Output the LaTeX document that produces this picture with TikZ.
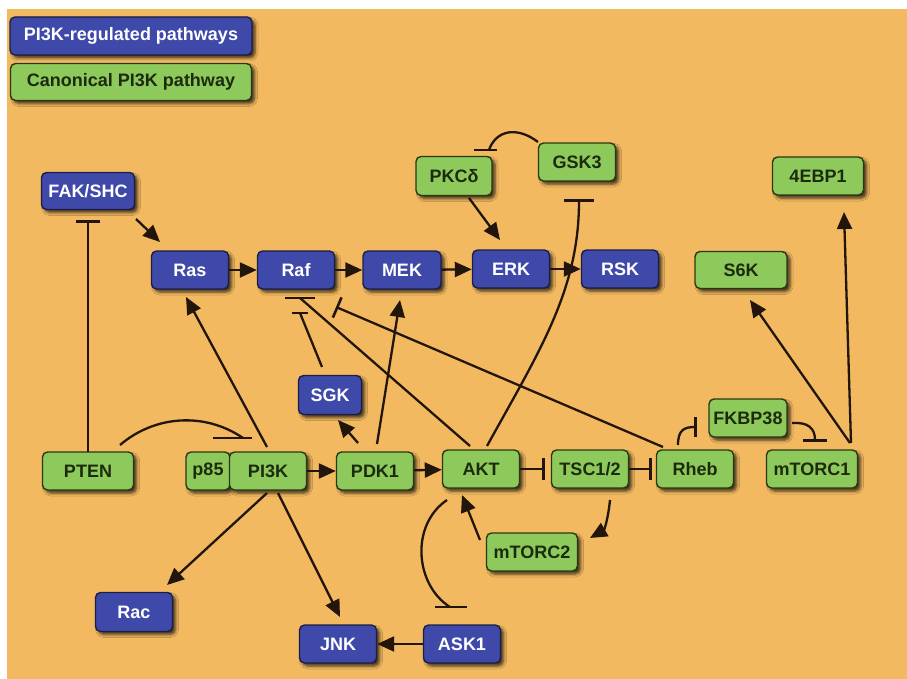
\documentclass[tikz,border=0pt]{standalone}
\usepackage{fontspec}
\setmainfont{Liberation Sans}
\usetikzlibrary{arrows.meta,calc,shadows.blur}

\definecolor{bgorange}{HTML}{F2B960}
\definecolor{pathblue}{HTML}{3E49AA}
\definecolor{pathgreen}{HTML}{8DC95B}
\definecolor{blueedge}{HTML}{1C1E45}
\definecolor{greenedge}{HTML}{2A3814}
\definecolor{greentext}{HTML}{1C2A0E}
\definecolor{wire}{HTML}{22160C}

\tikzset{
  box/.style={rounded corners=5pt, line width=1.4pt, minimum height=38pt,
    inner sep=0pt, font=\bfseries\fontsize{18}{21}\selectfont,
    blur shadow={shadow xshift=3pt, shadow yshift=-3pt,
      shadow blur radius=3pt, shadow opacity=75}},
  bluebox/.style={box, fill=pathblue, draw=blueedge, text=white},
  greenbox/.style={box, fill=pathgreen, draw=greenedge, text=greentext},
  act/.style={draw=wire, line width=2.3pt, -{Triangle[length=17pt,width=15pt]}},
  inh/.style={draw=wire, line width=2.3pt, -{Bar[width=22pt,line width=2.6pt]}},
  wireline/.style={draw=wire, line width=2.3pt},
  tbar/.style={draw=wire, line width=2.6pt}
}

\begin{document}
\begin{tikzpicture}[x=1pt,y=-1pt]
% canvas
\fill[white] (0,0) rectangle (907,679);
\fill[bgorange] (7,9) rectangle (907,679);
\useasboundingbox (0,0) rectangle (907,679);

% legend
\node[bluebox, minimum width=242pt] (legA) at (131,36) {PI3K-regulated pathways};
\node[greenbox, minimum width=241pt, minimum height=37pt] (legB) at (131,82) {Canonical PI3K pathway};

% PI3K-regulated (blue) nodes
\node[bluebox, minimum width=93pt, minimum height=37pt] (fak) at (88,191) {FAK/SHC};
\node[bluebox, minimum width=77pt] (ras) at (190,270) {Ras};
\node[bluebox, minimum width=77pt] (raf) at (296,270) {Raf};
\node[bluebox, minimum width=78pt] (mek) at (402,270) {MEK};
\node[bluebox, minimum width=77pt] (erk) at (511,269) {ERK};
\node[bluebox, minimum width=77pt] (rsk) at (620,269) {RSK};
\node[bluebox, minimum width=63pt, minimum height=39pt] (sgk) at (330,395) {SGK};
\node[bluebox, minimum width=77pt, minimum height=39pt] (rac) at (134,612) {Rac};
\node[bluebox, minimum width=77pt] (jnk) at (338,644) {JNK};
\node[bluebox, minimum width=77pt] (ask) at (462,644) {ASK1};

% canonical (green) nodes
\node[greenbox, minimum width=76pt, minimum height=39pt] (pkc) at (454,176) {PKCδ};
\node[greenbox, minimum width=77pt] (gsk) at (577,162) {GSK3};
\node[greenbox, minimum width=91pt] (ebp) at (818,176) {4EBP1};
\node[greenbox, minimum width=92pt, minimum height=37pt] (s6k) at (741,270) {S6K};
\node[greenbox, minimum width=91pt] (pten) at (88,471) {PTEN};
\node[greenbox, minimum width=44pt] (p85) at (208,471) {p85};
\node[greenbox, minimum width=77pt] (pi3k) at (268,471) {PI3K};
\node[greenbox, minimum width=77pt] (pdk) at (375,471) {PDK1};
\node[greenbox, minimum width=77pt] (akt) at (481,469) {AKT};
\node[greenbox, minimum width=77pt] (tsc) at (590,469) {TSC1/2};
\node[greenbox, minimum width=77pt] (rheb) at (695,469) {Rheb};
\node[greenbox, minimum width=78pt] (fkbp) at (748,418) {FKBP38};
\node[greenbox, minimum width=91pt] (mtorc1) at (812,469) {mTORC1};
\node[greenbox, minimum width=91pt] (mtorc2) at (532,552) {mTORC2};

% MAPK cascade
\draw[act] (ras) -- (raf);
\draw[act] (raf) -- (mek);
\draw[act] (mek) -- (erk);
\draw[act] (erk) -- (rsk);
\draw[act] ($(fak)+(48,28)$) -- ($(ras)+(-30,-28)$);
\draw[inh, -{Bar[width=24pt,line width=2.6pt]}] ($(pten)+(0,-19)$) -- ($(fak)+(0,29)$);
\draw[act] ($(pkc)+(15,22)$) -- ($(erk)+(-11,-29)$);

% GSK3 -| PKCdelta
\draw[wireline] ($(gsk)+(-39,-20)$) .. controls ($(gsk)+(-60,-36)$) and ($(pkc)+(42,-46)$) .. ($(pkc)+(35,-26)$);
\draw[tbar] ($(pkc)+(20,-26)$) -- ($(pkc)+(43,-26)$);

% AKT -| GSK3
\draw[inh, -{Bar[width=30pt,line width=2.6pt]}] ($(akt)+(6,-23)$) .. controls (540,350) and ($(gsk)+(2,128)$) .. ($(gsk)+(2,37)$);

% core PI3K axis
\draw[act] (pi3k) -- (pdk);
\draw[act] (pdk) -- (akt);
\draw[inh, shorten >=6pt] (akt) -- (tsc);
\draw[inh, shorten >=4pt] (tsc) -- (rheb);

% PTEN -| PI3K
\draw[wireline] ($(pten)+(32,-26)$) .. controls ($(pten)+(67,-56)$) and ($(pi3k)+(-63,-59)$) .. ($(pi3k)+(-25,-33)$);
\draw[tbar] ($(pi3k)+(-55,-33)$) -- ($(pi3k)+(-16,-33)$);

% PI3K targets
\draw[act] ($(pi3k)+(-1,-24)$) -- ($(ras)+(-4,27)$);
\draw[act] ($(pi3k)+(-1,22)$) -- ($(rac)+(33,-27)$);
\draw[act] ($(pi3k)+(10,22)$) -- ($(jnk)+(2,-27)$);
\draw[act] (ask) -- (jnk);

% PDK1 targets
\draw[act] ($(pdk)+(2,-27)$) -- ($(mek)+(-2,30)$);
\draw[act] ($(pdk)+(-17,-28)$) -- ($(sgk)+(8,25)$);

% inhibition of Raf
\draw[wireline] ($(akt)+(-11,-23)$) -- ($(raf)+(4,28)$);
\draw[tbar] ($(raf)+(-11,28)$) -- ($(raf)+(19,28)$);
\draw[wireline] ($(sgk)+(-8,-28)$) -- ($(raf)+(4,43)$);
\draw[tbar] ($(raf)+(-4,43)$) -- ($(raf)+(12,43)$);
\draw[inh] ($(rheb)+(-32,-22)$) -- ($(raf)+(40,37)$);

% AKT -| ASK1
\draw[wireline] ($(akt)+(-34,31)$) .. controls ($(akt)+(-71,56)$) and ($(ask)+(-47,-59)$) .. ($(ask)+(-12,-37)$);
\draw[tbar] ($(ask)+(-27,-37)$) -- ($(ask)+(5,-37)$);

% mTOR branch
\draw[act] ($(mtorc2)+(-52,-12)$) -- ($(akt)+(-19,26)$);
\draw[act] ($(tsc)+(20,31)$) .. controls ($(tsc)+(18,51)$) and ($(tsc)+(14,61)$) .. ($(mtorc2)+(58,-14)$);
\draw[inh, -{Bar[width=20pt,line width=2.6pt]}] ($(rheb)+(-17,-24)$) .. controls ($(rheb)+(-17,-39)$) and ($(fkbp)+(-64,9)$) .. ($(fkbp)+(-51,9)$);
\draw[inh, -{Bar[width=24pt,line width=2.6pt]}] ($(fkbp)+(44,5)$) .. controls ($(fkbp)+(60,4)$) and ($(mtorc1)+(3,-41)$) .. ($(mtorc1)+(3,-27)$);
\draw[act] ($(mtorc1)+(38,-26)$) -- ($(s6k)+(9,30)$);
\draw[act] ($(mtorc1)+(39,-26)$) -- ($(ebp)+(26,36)$);
\end{tikzpicture}
\end{document}
